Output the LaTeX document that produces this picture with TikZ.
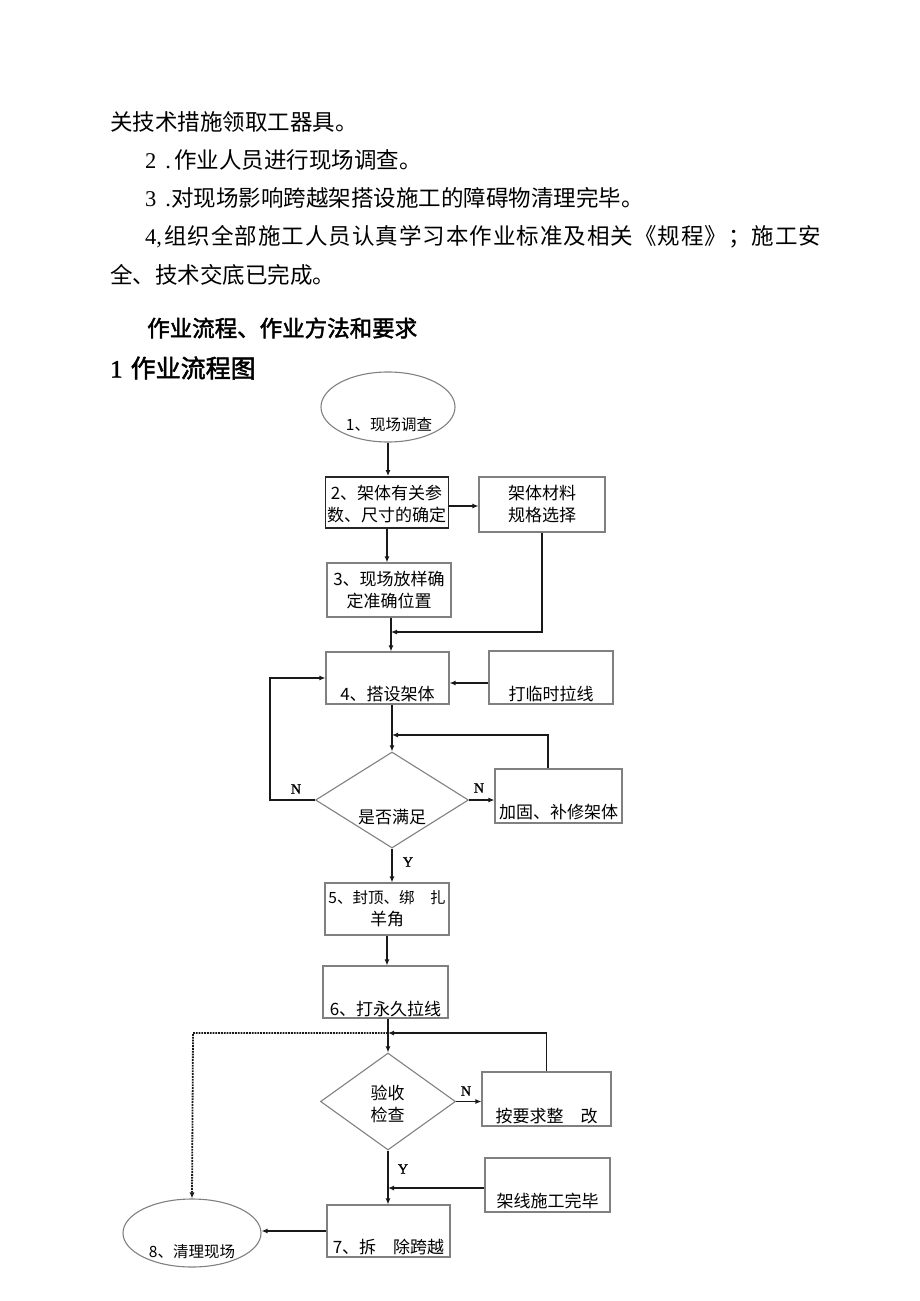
\documentclass[tikz,border=0pt]{standalone}
\usepackage{fontspec}
\setmainfont{Liberation Serif}
\newfontfamily\cjk{Noto Sans CJK SC}
\newfontfamily\cjkls[LetterSpace=4.5]{Noto Sans CJK SC}
\newfontfamily\cjkb[FakeBold=2]{Noto Sans CJK SC}
\newfontfamily\serb[FakeBold=1.6]{Liberation Serif}
\usetikzlibrary{shapes.geometric,arrows.meta}
\begin{document}
\begin{tikzpicture}[x=1pt,y=-1pt,
  body/.style={anchor=west,inner sep=0pt,font=\fontsize{22.5}{27}\selectfont},
  box/.style={draw=black!50,line width=1.1pt,rectangle,inner sep=0pt},
  oval/.style={draw=black!50,line width=1.1pt,ellipse,inner sep=0pt},
  dia/.style={draw=black!50,line width=1.1pt,diamond,inner sep=0pt},
  txt/.style={inner sep=0pt,align=center,font=\fontsize{17}{22}\selectfont\cjk},
  lab/.style={inner sep=0pt,font=\fontsize{14}{14}\selectfont\serb},
  conn/.style={line width=1.8pt,draw=black!90},
  arr/.style={conn,-{Latex[length=6pt,width=5pt]}}]
\useasboundingbox (0,0) rectangle (920,1301);
% body text
\node[body] (p1) at (110,122) {\cjk 关技术措施领取工器具。};
\node[body] (p2) at (145,160) {2\hspace{9pt}.\hspace{3pt}\cjk 作业人员进行现场调查。};
\node[body] (p3) at (145,198) {3\hspace{9pt}.\cjk 对现场影响跨越架搭设施工的障碍物清理完毕。};
\node[body] (p4) at (145,237) {4,\hspace{2pt}\cjkls 组织全部施工人员认真学习本作业标准及相关《规程》；施工安};
\node[body] (p5) at (110,275) {\cjk 全、技术交底已完成。};
\node[body] (h1) at (147,328) {\cjkb 作业流程、作业方法和要求};
\node[body,font=\fontsize{25}{30}\selectfont] (h2) at (110,368) {\serb 1\hspace{8pt}\cjkb 作业流程图};
% shapes
\node[oval,minimum width=134,minimum height=70] (e1) at (388,407) {};
\node[txt,font=\fontsize{15.5}{18}\selectfont\cjk] (te1) at (389,425) {1、现场调查};
\node[box,draw=black!85,line width=1.8pt,minimum width=123,minimum height=51] (b2) at (387,502.5) {};
\node[txt] (tb2) at (386.5,504) {2、架体有关参\\数、尺寸的确定};
\node[box,minimum width=126,minimum height=55] (mat) at (542,504.5) {};
\node[txt] (tmat) at (542,504) {架体材料\\规格选择};
\node[box,minimum width=124,minimum height=54] (b3) at (389,590) {};
\node[txt] (tb3) at (389,590) {3、现场放样确\\定准确位置};
\node[box,minimum width=123,minimum height=52] (b4) at (387.5,678) {};
\node[txt] (tb4) at (387.5,694) {4、搭设架体};
\node[box,minimum width=124,minimum height=53] (tmp) at (551,677.5) {};
\node[txt] (ttmp) at (551,694) {打临时拉线};
\node[dia,minimum width=153,minimum height=96] (d1) at (392,800) {};
\node[txt] (td1) at (392,817) {是否满足};
\node[box,minimum width=127,minimum height=54] (fix) at (558.5,796) {};
\node[txt] (tfix) at (558.5,812) {加固、补修架体};
\node[box,minimum width=124,minimum height=52] (b5) at (387,909) {};
\node[txt] (tb5) at (387,909) {{\fontsize{15.5}{22}\selectfont 5、封顶、绑　扎}\\羊角};
\node[box,minimum width=125,minimum height=52] (b6) at (385.5,992) {};
\node[txt] (tb6) at (385.5,1009) {6、打永久拉线};
\node[dia,minimum width=135,minimum height=97] (d2) at (388,1101.5) {};
\node[txt] (td2) at (387.5,1104) {验收\\检查};
\node[box,minimum width=129,minimum height=54] (rect) at (546.5,1099) {};
\node[txt] (trect) at (546.5,1116) {按要求整　改};
\node[box,minimum width=125,minimum height=54] (done) at (547.5,1185) {};
\node[txt] (tdone) at (547.5,1201) {架线施工完毕};
\node[box,minimum width=123,minimum height=52] (b7) at (388.5,1231) {};
\node[txt] (tb7) at (388.5,1247) {7、拆　除跨越};
\node[oval,minimum width=138,minimum height=68] (e8) at (192,1233) {};
\node[txt,font=\fontsize{15.5}{18}\selectfont\cjk] (te8) at (192,1252) {8、清理现场};
% junction coordinates
\coordinate (j0) at (0,506);
\coordinate (j1) at (391,632);
\coordinate (j2) at (392,735);
\coordinate (j3) at (388,1033);
\coordinate (j4) at (388,1188);
\coordinate (l1) at (270,800);
\coordinate (dc) at (193,1033);
% connectors
\draw[arr] (e1.south) -- (e1.south |- b2.north);
\draw[arr] (b2.east |- j0) -- (mat.west |- j0);
\draw[arr] (b2.south) -- (b2.south |- b3.north);
\draw[arr] (mat.south) |- (j1);
\draw[arr] (b3.south -| j1) -- (b4.north -| j1);
\draw[arr] (tmp.west |- 0,683) -- (b4.east |- 0,683);
\draw[arr] (d1.north |- b4.south) -- (d1.north);
\draw[arr] ([xshift=-10.5pt]fix.north) |- (j2);
\draw[arr] (d1.west) -- (l1) |- (b4.west);
\draw[arr] (d1.east) -- (d1.east -| fix.west);
\node[lab] (n1) at (296,789) {N};
\node[lab] (n2) at (479,788) {N};
\draw[arr] (d1.south) -- (d1.south |- b5.north);
\node[lab] (y1) at (408,862) {Y};
\draw[arr] (b5.south) -- (b5.south |- b6.north);
\draw[arr] (d2.north |- b6.south) -- (d2.north);
\draw[arr] (rect.north) |- (j3);
\draw[conn,densely dotted,-{Latex[length=6pt,width=5pt]}] (j3) -- (dc) -- (e8.north);
\draw[arr] (d2.east) -- (d2.east -| rect.west);
\node[lab] (n3) at (466,1091) {N};
\draw[arr] (d2.south) -- (d2.south |- b7.north);
\node[lab] (y2) at (403,1169) {Y};
\draw[arr] (done.west |- j4) -- (j4);
\draw[arr] (b7.west) -- (b7.west -| e8.east);
\end{tikzpicture}
\end{document}
